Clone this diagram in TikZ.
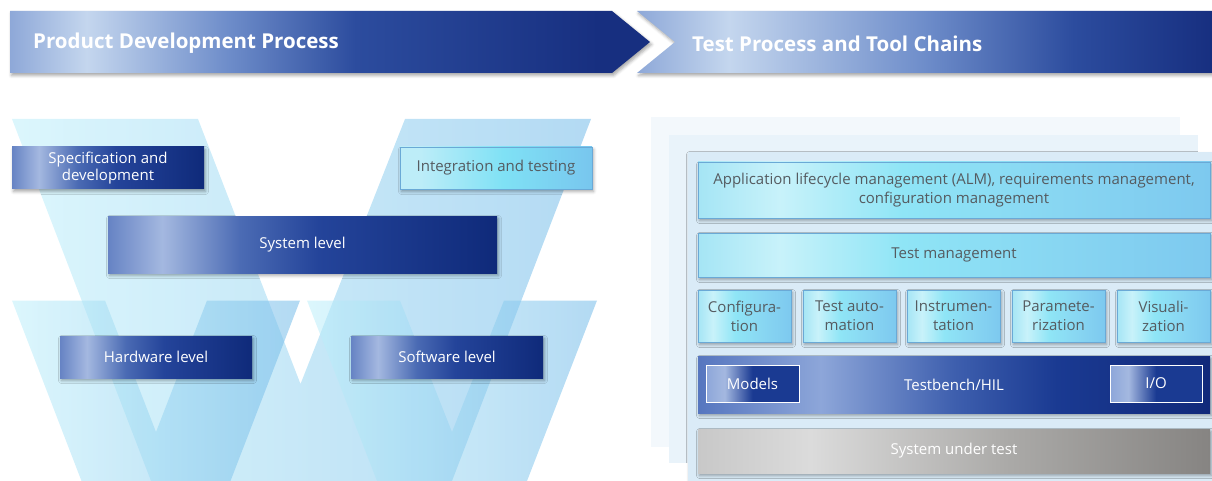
\documentclass[tikz,border=0pt]{standalone}
\usepackage{fontspec}
\setmainfont{Open Sans}
\usetikzlibrary{shadows.blur}
% header colours
\definecolor{hA0}{HTML}{8EA8D8}
\definecolor{hA1}{HTML}{C4D6EE}
\definecolor{hA2}{HTML}{6E8DCA}
\definecolor{hA3}{HTML}{2C4C9E}
\definecolor{hA4}{HTML}{172F80}
% dark box colours
\definecolor{dk0}{HTML}{6683C4}
\definecolor{dk1}{HTML}{A4B8E0}
\definecolor{dk2}{HTML}{4B6BB4}
\definecolor{dk3}{HTML}{24449A}
\definecolor{dk4}{HTML}{0F2A7A}
% testbench colours
\definecolor{tb0}{HTML}{5676BF}
\definecolor{tb1}{HTML}{8DA6D9}
\definecolor{tb2}{HTML}{3E5FAE}
\definecolor{tb3}{HTML}{1A3A92}
\definecolor{tb4}{HTML}{11297A}
% cyan box colours
\definecolor{cy0}{HTML}{A5E5F5}
\definecolor{cy1}{HTML}{C8F2FA}
\definecolor{cy2}{HTML}{8FE5F6}
\definecolor{cy3}{HTML}{88D6F2}
\definecolor{cy4}{HTML}{7DC9EF}
\definecolor{cyline}{HTML}{6AA9D6}
% integration box
\definecolor{it0}{HTML}{BDEDF8}
\definecolor{it1}{HTML}{7FE1F5}
\definecolor{it2}{HTML}{78C6EE}
% grey
\definecolor{gr0}{HTML}{C8C8C8}
\definecolor{gr1}{HTML}{DBDBDB}
\definecolor{gr2}{HTML}{ABAAA8}
\definecolor{gr3}{HTML}{868482}
% V colours
\definecolor{vL}{HTML}{BEEFFA}
\definecolor{vR}{HTML}{74BBE9}
% panels
\definecolor{pn1}{HTML}{F3F8FC}
\definecolor{pn2}{HTML}{E9F3FA}
\definecolor{pn3}{HTML}{DAEBF7}
\definecolor{txgray}{HTML}{555B60}

\pgfdeclarehorizontalshading{hdrA}{100bp}{color(0bp)=(hA0); color(25bp)=(hA0); color(31bp)=(hA1); color(42bp)=(hA2); color(52bp)=(hA3); color(71bp)=(hA4); color(100bp)=(hA4)}
\pgfdeclarehorizontalshading{hdrB}{100bp}{color(0bp)=(hA0); color(25bp)=(hA0); color(33bp)=(hA1); color(50bp)=(hA2); color(63bp)=(hA3); color(75bp)=(hA4); color(100bp)=(hA4)}
\pgfdeclarehorizontalshading{darkshade}{100bp}{color(0bp)=(dk0); color(25bp)=(dk0); color(32bp)=(dk1); color(42bp)=(dk2); color(52bp)=(dk3); color(75bp)=(dk4); color(100bp)=(dk4)}
\pgfdeclarehorizontalshading{tbshade}{100bp}{color(0bp)=(tb0); color(25bp)=(tb0); color(37bp)=(tb1); color(50bp)=(tb2); color(60bp)=(tb3); color(75bp)=(tb4); color(100bp)=(tb4)}
\pgfdeclarehorizontalshading{smallshade}{100bp}{color(0bp)=(tb1); color(25bp)=(tb1); color(35bp)=(dk1); color(50bp)=(tb3); color(75bp)=(tb3); color(100bp)=(tb3)}
\pgfdeclarehorizontalshading{cyanshade}{100bp}{color(0bp)=(cy0); color(25bp)=(cy0); color(33bp)=(cy1); color(45bp)=(cy2); color(60bp)=(cy3); color(75bp)=(cy4); color(100bp)=(cy4)}
\pgfdeclarehorizontalshading{intshade}{100bp}{color(0bp)=(it0); color(25bp)=(it0); color(30bp)=(it0); color(52bp)=(it1); color(75bp)=(it2); color(100bp)=(it2)}
\pgfdeclarehorizontalshading{greyshade}{100bp}{color(0bp)=(gr0); color(25bp)=(gr0); color(36bp)=(gr1); color(55bp)=(gr2); color(75bp)=(gr3); color(100bp)=(gr3)}

\begin{document}
\begin{tikzpicture}[x=1pt,y=-1pt,
  every node/.style={font=\fontsize{15}{19}\selectfont, inner sep=0pt, align=center},
  shad/.style={blur shadow={shadow xshift=1.5pt,shadow yshift=-2.5pt,shadow blur radius=3pt,shadow opacity=35}},
  darkbox/.style={shad, shading=darkshade, text=white, minimum width=192pt, minimum height=42pt},
  cyanbox/.style={shad, shading=cyanshade, draw=cyline, line width=0.6pt, text=txgray, minimum width=512pt},
  smallbox/.style={cyanbox, minimum width=93pt, minimum height=52pt},
  innerbox/.style={shading=smallshade, draw=white, line width=1pt, text=white, minimum width=93pt, minimum height=37pt},
  vshape/.style={left color=vL, right color=vR, opacity=0.55},
  hdrtext/.style={font=\fontsize{20.5}{24}\selectfont\bfseries, text=white, anchor=west}]
\useasboundingbox (0,0) rectangle (1212,481);

% ---------- headers ----------
\shade[shading=hdrA, shad] (10,11) -- (612,11) -- (650,42) -- (612,73) -- (10,73) -- cycle;
\shade[shading=hdrB, shad] (637,11) -- (1212,11) -- (1212,73) -- (637,73) -- (675,42) -- cycle;
\node[hdrtext] (h1) at (33,43.5) {Product Development Process};
\node[hdrtext] (h2) at (692,43.5) {Test Process and Tool Chains};

% ---------- V shapes ----------
\shade[vshape] (12,119) -- (198,119) -- (300.5,384) -- (405,119) -- (591,119) -- (452,481) -- (151,481) -- cycle;
\shade[vshape] (12,300.5) -- (105,300.5) -- (156,432) -- (207,300.5) -- (300,300.5) -- (230.5,481) -- (81.5,481) -- cycle;
\shade[vshape] (307,300.5) -- (400,300.5) -- (452,432) -- (504,300.5) -- (597,300.5) -- (527,481) -- (377,481) -- cycle;

% ---------- left boxes ----------
\node[darkbox, font=\fontsize{15}{17}\selectfont] (spec) at (108,168) {Specification and\\development};
\node[shad, shading=intshade, draw=cyline, line width=0.5pt, text=txgray, minimum width=192pt, minimum height=42pt] (integ) at (496,168) {Integration and testing};
\node[darkbox, minimum width=389pt, minimum height=57pt] (sys) at (302.5,244.5) {System level};
\node[darkbox] (hw) at (156,357) {Hardware level};
\node[darkbox] (sw) at (447,357) {Software level};

% ---------- right panels ----------
\fill[pn1] (651,117) rectangle (1180,447);
\fill[pn2] (669,135) rectangle (1198,463);
\fill[pn3, shad] (688,152) rectangle (1212,481);

\node[cyanbox, minimum height=56pt] (alm) at (954,190) {Application lifecycle management (ALM), requirements management,\\configuration management};
\node[cyanbox, minimum height=44pt] (tm) at (954,255) {Test management};
\node[smallbox] (c1) at (744.5,316) {Configura-\\tion};
\node[smallbox] (c2) at (849.5,316) {Test auto-\\mation};
\node[smallbox] (c3) at (953.5,316) {Instrumen-\\tation};
\node[smallbox] (c4) at (1058.5,316) {Paramete-\\rization};
\node[smallbox] (c5) at (1163.5,316) {Visuali-\\zation};
\node[shad, shading=tbshade, text=white, minimum width=512pt, minimum height=57pt] (tb) at (954,384.5) {Testbench/HIL};
\node[innerbox] (models) at (752.5,383.5) {Models};
\node[innerbox, minimum width=92pt] (io) at (1156,383.5) {I/O};
\node[shad, shading=greyshade, text=white, minimum width=512pt, minimum height=44pt] (sut) at (954,451) {System under test};
\end{tikzpicture}
\end{document}
